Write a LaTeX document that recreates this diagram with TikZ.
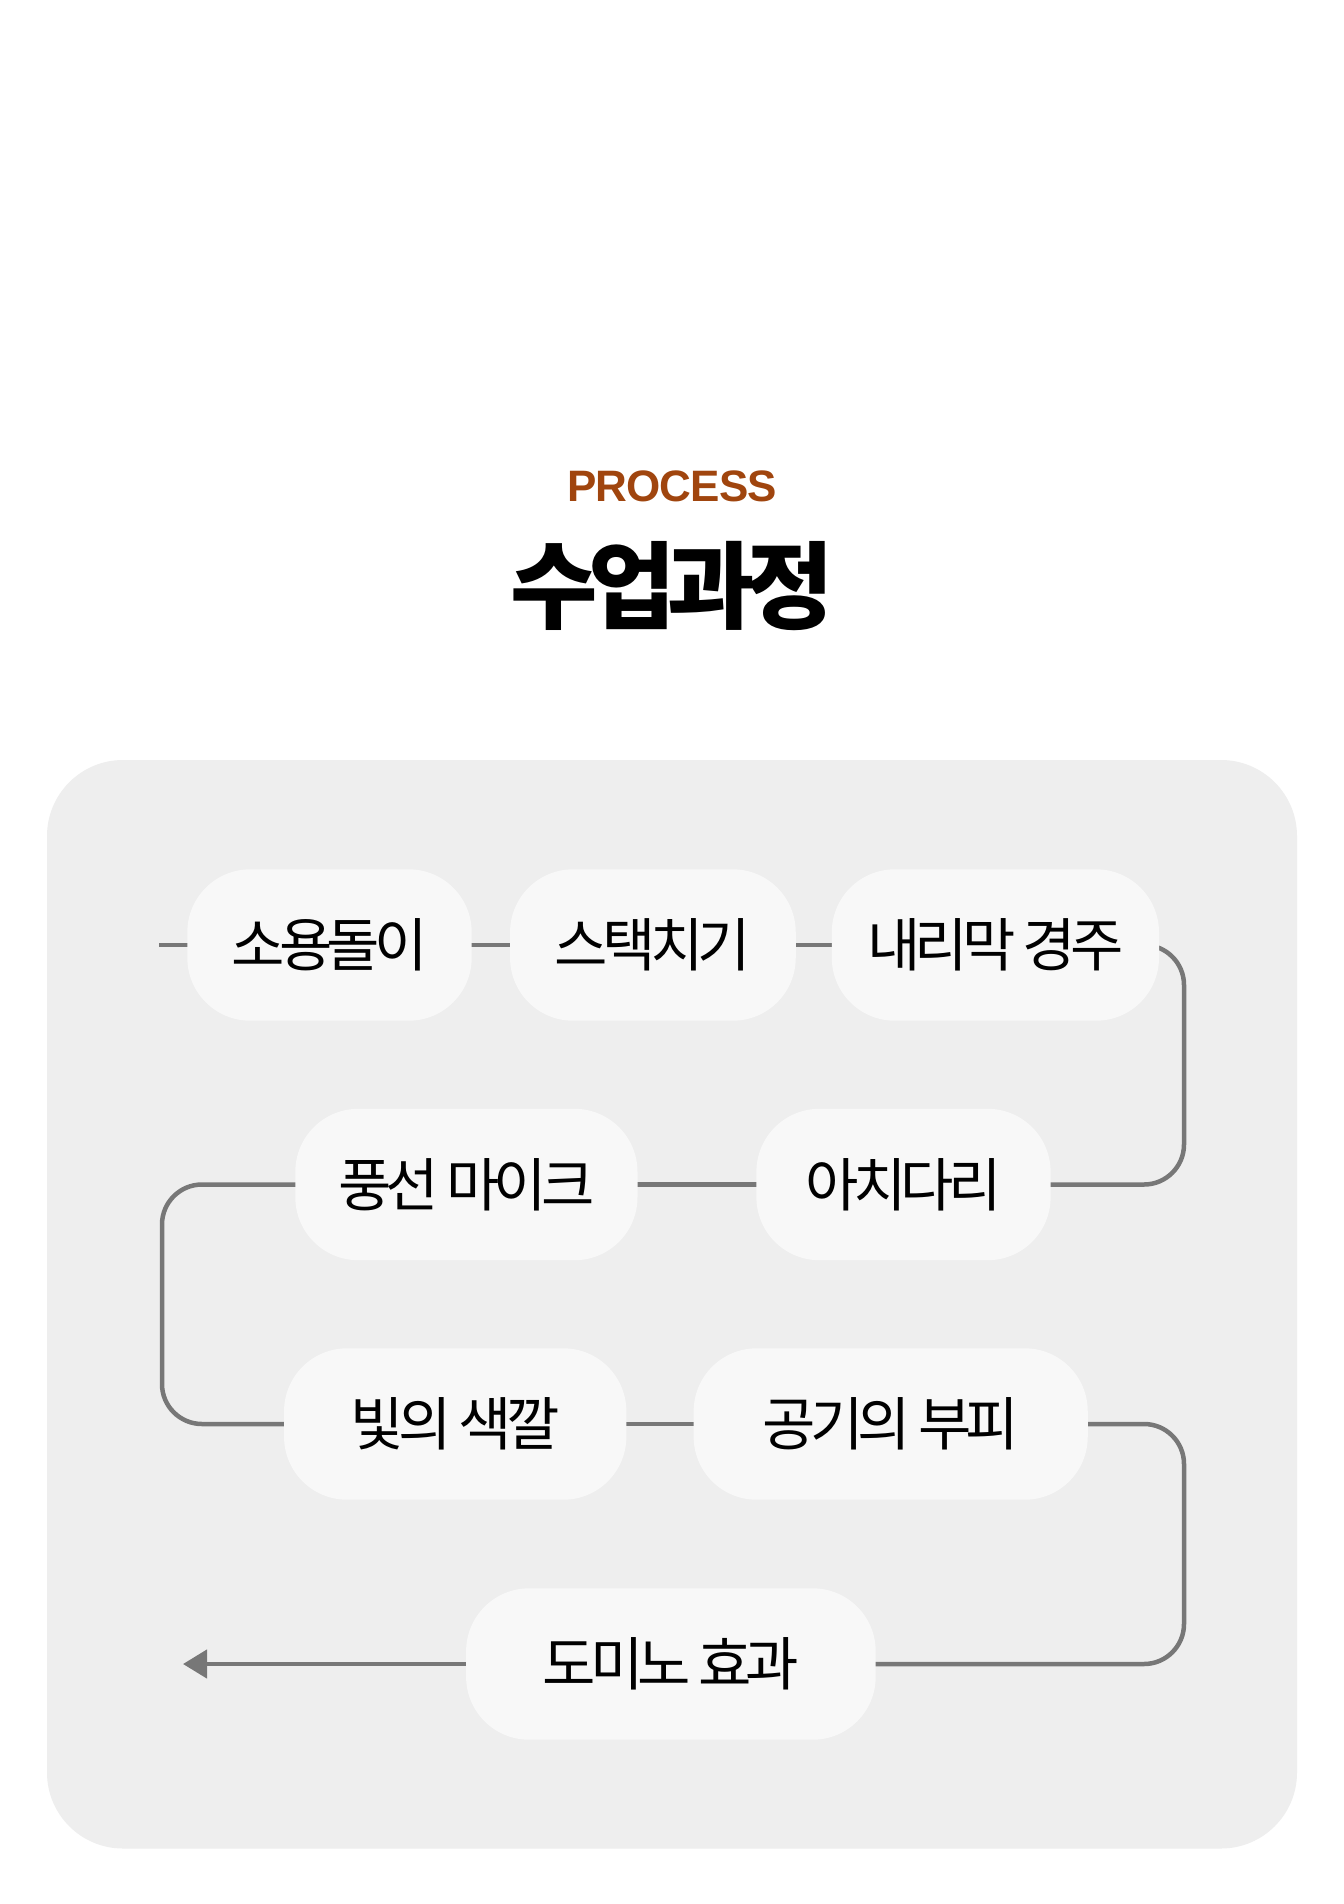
\documentclass[tikz,border=0pt]{standalone}
\usepackage{fontspec}
\setmainfont{Noto Sans CJK KR}
\newfontfamily\nodefont[LetterSpace=-10]{Noto Sans CJK KR}
\newfontfamily\titlefont[LetterSpace=-9]{Noto Sans CJK KR}
\newfontfamily\procfont[LetterSpace=-2]{Liberation Sans}
\usetikzlibrary{arrows.meta}
\definecolor{panelgray}{HTML}{EEEEEE}
\definecolor{pillgray}{HTML}{F8F8F8}
\definecolor{linegray}{HTML}{777777}
\definecolor{procbrown}{HTML}{A0450E}
\pgfdeclarelayer{bg}
\pgfdeclarelayer{lines}
\pgfsetlayers{bg,lines,main}
\begin{document}
\begin{tikzpicture}[x=1pt,y=-1pt,
  pill/.style={fill=pillgray, rounded corners=63pt, minimum height=151.4pt, inner sep=0pt,
    font=\nodefont\fontsize{58}{62}\selectfont, text=black},
  conn/.style={draw=linegray, line width=4.5pt, rounded corners=40pt}]
\useasboundingbox (0,0) rectangle (1344,1904);
\begin{pgfonlayer}{bg}
  \fill[white] (0,0) rectangle (1344,1904);
  \fill[panelgray, rounded corners=76pt] (47,760) rectangle (1297,1848.5);
\end{pgfonlayer}

\node[font=\procfont\bfseries\fontsize{44}{48}\selectfont, text=procbrown] (proc) at (672,486.4) {PROCESS};
\node[font=\titlefont\bfseries\fontsize{95}{100}\selectfont, text=black] (title) at (672,586) {수업과정};

\node[pill, minimum width=284.4pt] (n1) at (329.5,945) {소용돌이};
\node[pill, minimum width=285.7pt] (n2) at (652.9,945) {스택치기};
\node[pill, minimum width=327.2pt] (n3) at (995.4,945) {내리막 경주};
\node[pill, minimum width=294.2pt] (n4) at (903.5,1184.5) {아치다리};
\node[pill, minimum width=342.2pt] (n5) at (466.4,1184.5) {풍선 마이크};
\node[pill, minimum width=342.3pt] (n6) at (455.2,1424) {빛의 색깔};
\node[pill, minimum width=394.1pt] (n7) at (890.7,1424) {공기의 부피};
\node[pill, minimum width=409.6pt] (n8) at (670.9,1664) {도미노 효과};

\coordinate (start) at (159,945);
\coordinate (finish) at (183,1664);
\coordinate (rtop) at (1184,1065);
\coordinate (lmid) at (162,1304);
\coordinate (rbot) at (1184,1544);

\begin{pgfonlayer}{lines}
  \draw[conn] (start) -- (n1.center);
  \draw[conn] (n1.center) -- (n2.center);
  \draw[conn] (n2.center) -- (n3.center);
  \draw[conn] (n3.center) -| (rtop) |- (n4.center);
  \draw[conn] (n4.center) -- (n5.center);
  \draw[conn] (n5.center) -| (lmid) |- (n6.center);
  \draw[conn] (n6.center) -- (n7.center);
  \draw[conn] (n7.center) -| (rbot) |- (n8.center);
  \draw[conn, -{Triangle[length=24pt,width=28pt]}] (n8.center) -- (finish);
\end{pgfonlayer}
\end{tikzpicture}
\end{document}
